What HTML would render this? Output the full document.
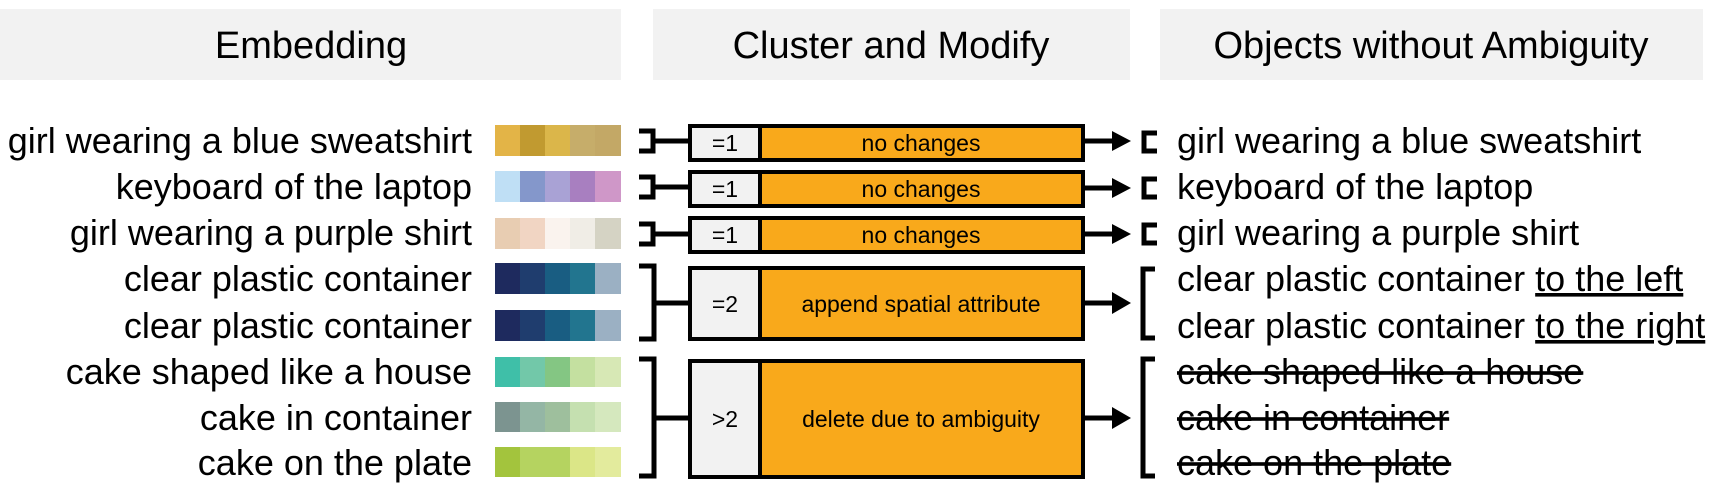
<!DOCTYPE html>
<html><head><meta charset="utf-8"><style>
html,body{margin:0;padding:0;background:#fff;}
svg{display:block;}
text{font-family:"Liberation Sans",sans-serif;fill:#000;}
</style></head><body>
<svg width="1723" height="492" viewBox="0 0 1723 492" xmlns="http://www.w3.org/2000/svg">
<rect x="0" y="9" width="621" height="71" fill="#f2f2f2"/>
<rect x="653" y="9" width="477" height="71" fill="#f2f2f2"/>
<rect x="1160" y="9" width="543" height="71" fill="#f2f2f2"/>
<g font-size="38" text-anchor="middle">
<text x="311" y="58">Embedding</text>
<text x="891" y="58">Cluster and Modify</text>
<text x="1431" y="58">Objects without Ambiguity</text>
</g>
<g font-size="36" text-anchor="end">
<text x="472" y="153">girl wearing a blue sweatshirt</text>
<text x="472" y="199">keyboard of the laptop</text>
<text x="472" y="245">girl wearing a purple shirt</text>
<text x="472" y="291">clear plastic container</text>
<text x="472" y="338">clear plastic container</text>
<text x="472" y="384">cake shaped like a house</text>
<text x="472" y="430">cake in container</text>
<text x="472" y="475">cake on the plate</text>
</g>
<g>
<rect x="495" y="125" width="25" height="31" fill="#e3b447"/><rect x="520" y="125" width="25" height="31" fill="#c19a30"/><rect x="545" y="125" width="25" height="31" fill="#dbb64a"/><rect x="570" y="125" width="25" height="31" fill="#c6ad6a"/><rect x="595" y="125" width="26" height="31" fill="#c3a866"/>
<rect x="495" y="171" width="25" height="31" fill="#bfdff5"/><rect x="520" y="171" width="25" height="31" fill="#8497cb"/><rect x="545" y="171" width="25" height="31" fill="#a9a2d5"/><rect x="570" y="171" width="25" height="31" fill="#a87fc0"/><rect x="595" y="171" width="26" height="31" fill="#cf97c8"/>
<rect x="495" y="218" width="25" height="31" fill="#e8cdb2"/><rect x="520" y="218" width="25" height="31" fill="#f1d5c3"/><rect x="545" y="218" width="25" height="31" fill="#faf3ee"/><rect x="570" y="218" width="25" height="31" fill="#f0ede6"/><rect x="595" y="218" width="26" height="31" fill="#d5d3c4"/>
<rect x="495" y="263" width="25" height="31" fill="#1e2a5e"/><rect x="520" y="263" width="25" height="31" fill="#1f3d6e"/><rect x="545" y="263" width="25" height="31" fill="#195d82"/><rect x="570" y="263" width="25" height="31" fill="#22758f"/><rect x="595" y="263" width="26" height="31" fill="#9bb0c3"/>
<rect x="495" y="310" width="25" height="31" fill="#1e2a5e"/><rect x="520" y="310" width="25" height="31" fill="#1f3d6e"/><rect x="545" y="310" width="25" height="31" fill="#195d82"/><rect x="570" y="310" width="25" height="31" fill="#22758f"/><rect x="595" y="310" width="26" height="31" fill="#9bb0c3"/>
<rect x="495" y="357" width="25" height="30" fill="#3fbfa8"/><rect x="520" y="357" width="25" height="30" fill="#72c8a9"/><rect x="545" y="357" width="25" height="30" fill="#84c683"/><rect x="570" y="357" width="25" height="30" fill="#c4e0a0"/><rect x="595" y="357" width="26" height="30" fill="#d7e8b5"/>
<rect x="495" y="402" width="25" height="30" fill="#7c9490"/><rect x="520" y="402" width="25" height="30" fill="#94b6a5"/><rect x="545" y="402" width="25" height="30" fill="#9ebf9d"/><rect x="570" y="402" width="25" height="30" fill="#c5e0b0"/><rect x="595" y="402" width="26" height="30" fill="#d5e8be"/>
<rect x="495" y="447" width="25" height="30" fill="#a3c43d"/><rect x="520" y="447" width="50" height="30" fill="#b5d360"/><rect x="570" y="447" width="25" height="30" fill="#dbe687"/><rect x="595" y="447" width="26" height="30" fill="#e3eb9d"/>
</g>
<g stroke="#000" stroke-width="5" fill="none">
<path d="M639 131 H653 V151 H639"/><path d="M653 141 H688"/>
<path d="M639 177 H653 V197 H639"/><path d="M653 187 H688"/>
<path d="M639 224 H653 V244 H639"/><path d="M653 234 H688"/>
<path d="M639 266 H654 V339 H639"/><path d="M654 303 H688"/>
<path d="M639 359 H654 V476 H639"/><path d="M654 418 H688"/>
</g>
<g stroke="#000" stroke-width="4">
<rect x="690" y="126" width="70" height="34" fill="#f2f2f2"/><rect x="760" y="126" width="323" height="34" fill="#f9a91b"/>
<rect x="690" y="172" width="70" height="34" fill="#f2f2f2"/><rect x="760" y="172" width="323" height="34" fill="#f9a91b"/>
<rect x="690" y="218" width="70" height="34" fill="#f2f2f2"/><rect x="760" y="218" width="323" height="34" fill="#f9a91b"/>
<rect x="690" y="268" width="70" height="71" fill="#f2f2f2"/><rect x="760" y="268" width="323" height="71" fill="#f9a91b"/>
<rect x="690" y="361" width="70" height="116" fill="#f2f2f2"/><rect x="760" y="361" width="323" height="116" fill="#f9a91b"/>
</g>
<g font-size="23" text-anchor="middle">
<text x="725" y="151">=1</text><text x="921" y="151">no changes</text>
<text x="725" y="197">=1</text><text x="921" y="197">no changes</text>
<text x="725" y="243">=1</text><text x="921" y="243">no changes</text>
<text x="725" y="312">=2</text><text x="921" y="312">append spatial attribute</text>
<text x="725" y="427">&gt;2</text><text x="921" y="427">delete due to ambiguity</text>
</g>
<g stroke="#000" stroke-width="5" fill="none">
<path d="M1083 141 H1115"/><path d="M1083 188 H1115"/><path d="M1083 234 H1115"/><path d="M1083 303 H1115"/><path d="M1083 418 H1115"/>
<path d="M1157 133 H1144 V151 H1157"/>
<path d="M1157 179 H1144 V197 H1157"/>
<path d="M1157 225 H1144 V243 H1157"/>
<path d="M1155 269 H1143 V338 H1155"/>
<path d="M1155 359 H1143 V476 H1155"/>
</g>
<g fill="#000">
<polygon points="1112,131 1131,141 1112,151"/>
<polygon points="1112,178 1131,188 1112,198"/>
<polygon points="1112,224 1131,234 1112,244"/>
<polygon points="1112,292 1131,303 1112,314"/>
<polygon points="1112,407 1131,418 1112,429"/>
</g>
<g font-size="36">
<text x="1177" y="153">girl wearing a blue sweatshirt</text>
<text x="1177" y="199">keyboard of the laptop</text>
<text x="1177" y="245">girl wearing a purple shirt</text>
<text x="1177" y="291">clear plastic container <tspan text-decoration="underline">to the left</tspan></text>
<text x="1177" y="338">clear plastic container <tspan text-decoration="underline">to the right</tspan></text>
<text x="1177" y="384" text-decoration="line-through">cake shaped like a house</text>
<text x="1177" y="430" text-decoration="line-through">cake in container</text>
<text x="1177" y="475" text-decoration="line-through">cake on the plate</text>
</g>
</svg>
</body></html>
